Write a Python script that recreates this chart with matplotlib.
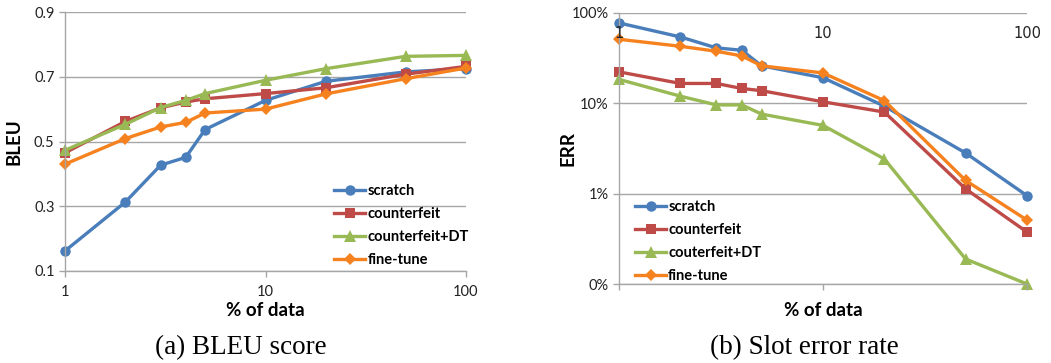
import numpy as np
import matplotlib
matplotlib.use("Agg")
import matplotlib.pyplot as plt

# % of training data
pct = [1, 2, 3, 4, 5, 10, 20, 50, 100]

# (a) BLEU
bleu_scratch = [0.162, 0.313, 0.427, 0.451, 0.537, 0.627, 0.686, 0.715, 0.725]
bleu_counterfeit = [0.465, 0.562, 0.604, 0.622, 0.632, 0.648, 0.666, 0.708, 0.732]
bleu_counterfeit_dt = [0.473, 0.553, 0.605, 0.627, 0.648, 0.689, 0.725, 0.763, 0.766]
bleu_finetune = [0.430, 0.509, 0.545, 0.559, 0.588, 0.600, 0.647, 0.694, 0.727]
bleu_ticks = [0.1, 0.3, 0.5, 0.7, 0.9]

# (b) slot error rate, in percent
err_scratch = [77.6, 54.3, 41.1, 38.7, 26.0, 19.2, 9.3, 2.82, 0.95]
err_counterfeit = [22.3, 16.6, 16.6, 14.6, 13.8, 10.4, 8.0, 1.13, 0.376]
err_counterfeit_dt = [18.4, 12.0, 9.6, 9.6, 7.6, 5.7, 2.42, 0.189, 0.1]
err_finetune = [51.2, 42.8, 37.7, 33.5, 26.0, 21.7, 10.7, 1.40, 0.51]
err_ticks = [0.1, 1, 10, 100]
err_ticklabels = ["0%", "1%", "10%", "100%"]

x_ticks = [1, 10, 100]

BLUE = "#4A7EBB"
RED = "#BE4B48"
GREEN = "#98B954"
ORANGE = "#F5821F"
GRID = "#A6A6A6"
SANS = "Lato"

W, H = 1051, 363
fig = plt.figure(figsize=(W / 100, H / 100), dpi=100)


def px_axes(left, top, right, bottom):
    return fig.add_axes([left / W, 1 - bottom / H, (right - left) / W, (bottom - top) / H])


def style_axes(ax):
    for side in ["top", "right"]:
        ax.spines[side].set_visible(False)
    for side in ["left", "bottom"]:
        ax.spines[side].set_color(GRID)
        ax.spines[side].set_linewidth(1.0)
    ax.yaxis.grid(True, color=GRID, linewidth=1.0)
    ax.set_axisbelow(True)
    ax.minorticks_off()
    ax.tick_params(colors=GRID, length=4, width=1.0, labelsize=10.5, labelcolor="#222222")
    for lab in ax.get_xticklabels() + ax.get_yticklabels():
        lab.set_family(SANS)


def series(ax, ys, color, marker, label, ms):
    ax.plot(pct, ys, color=color, marker=marker, markersize=ms, linewidth=2.4,
            markeredgewidth=0, label=label, clip_on=False)


def legend(ax, anchor):
    ax.legend(loc="upper left", bbox_to_anchor=anchor, frameon=False,
              prop={"family": SANS, "weight": "bold", "size": 10.5},
              handlelength=2.1, handletextpad=0.15, labelspacing=0.62,
              borderpad=0, borderaxespad=0)


# ---- (a) BLEU score
ax1 = px_axes(65, 12, 466, 271)
ax1.set_xscale("log")
series(ax1, bleu_scratch, BLUE, "o", "scratch", 7.5)
series(ax1, bleu_counterfeit, RED, "s", "counterfeit", 7)
series(ax1, bleu_counterfeit_dt, GREEN, "^", "counterfeit+DT", 8)
series(ax1, bleu_finetune, ORANGE, "D", "fine-tune", 6)
ax1.set_xlim(1, 100)
ax1.set_ylim(0.1, 0.9)
ax1.set_xticks(x_ticks)
ax1.set_xticklabels([str(t) for t in x_ticks])
ax1.set_yticks(bleu_ticks)
ax1.set_yticklabels([f"{t:.1f}" for t in bleu_ticks])
style_axes(ax1)
ax1.tick_params(axis="x", pad=6)
ax1.set_xlabel("% of data", fontsize=13.5, fontweight="bold", family=SANS, va="top")
ax1.xaxis.set_label_coords(0.5, -0.12)
ax1.set_ylabel("BLEU", fontsize=13.5, fontweight="bold", family=SANS)
ax1.yaxis.set_label_coords(-0.105, 0.5)
legend(ax1, (0.672, 0.335))
fig.text(241 / W, 1 - 348 / H, "(a) BLEU score", ha="center", va="center",
         family="Liberation Serif", fontsize=19.5)

# ---- (b) Slot error rate
ax2 = px_axes(619, 13, 1027, 284)
ax2.set_xscale("log")
ax2.set_yscale("log")
series(ax2, err_scratch, BLUE, "o", "scratch", 7.5)
series(ax2, err_counterfeit, RED, "s", "counterfeit", 7)
series(ax2, err_counterfeit_dt, GREEN, "^", "couterfeit+DT", 8)
series(ax2, err_finetune, ORANGE, "D", "fine-tune", 6)
ax2.set_xlim(1, 100)
ax2.set_ylim(0.1, 100)
ax2.set_xticks(x_ticks)
ax2.set_xticklabels([str(t) for t in x_ticks])
ax2.set_yticks(err_ticks)
ax2.set_yticklabels(err_ticklabels)
style_axes(ax2)
ax2.tick_params(axis="x", bottom=True, top=False, labelbottom=False, labeltop=True, pad=-24)
ax2.xaxis.set_zorder(5)  # "1" sits on top of the first marker
ax2.set_xlabel("% of data", fontsize=13.5, fontweight="bold", family=SANS, va="top")
ax2.xaxis.set_label_coords(0.5, -0.066)
ax2.set_ylabel("ERR", fontsize=13.5, fontweight="bold", family=SANS)
ax2.yaxis.set_label_coords(-0.103, 0.5)
legend(ax2, (0.04, 0.31))
fig.text(804 / W, 1 - 348 / H, "(b) Slot error rate", ha="center", va="center",
         family="Liberation Serif", fontsize=19.5)

fig.savefig("out.png", dpi=100, facecolor="white")
